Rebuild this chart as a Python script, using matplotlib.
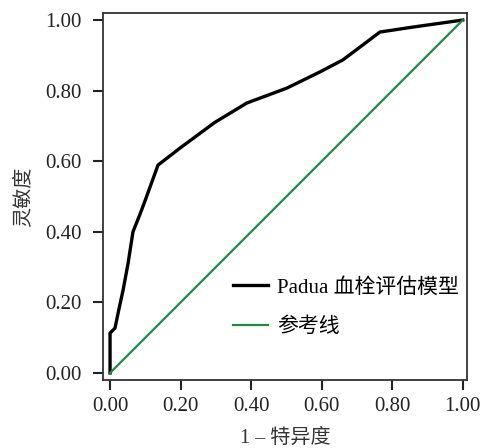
import matplotlib
matplotlib.use('Agg')
import matplotlib.pyplot as plt

plt.rcParams['font.family'] = ['Liberation Serif', 'Noto Sans CJK SC', 'DejaVu Sans']

# ROC curve of the Padua model
fpr = [0.0, 0.0, 0.014, 0.025, 0.037, 0.051, 0.065, 0.085, 0.10, 0.136,
       0.198, 0.297, 0.388, 0.501, 0.595, 0.66, 0.728, 0.765, 0.858, 1.0]
tpr = [0.0, 0.113, 0.127, 0.18, 0.235, 0.31, 0.40, 0.45, 0.49, 0.589,
       0.637, 0.710, 0.765, 0.807, 0.853, 0.887, 0.938, 0.966, 0.98, 1.0]
ref = [0.0, 1.0]

ticks = [0.0, 0.2, 0.4, 0.6, 0.8, 1.0]
tick_labels = ['0.00', '0.20', '0.40', '0.60', '0.80', '1.00']

fig = plt.figure(figsize=(4.84, 4.48), dpi=100)
ax = fig.add_axes([0.2128, 0.1518, 0.7521, 0.8192])

ax.plot(fpr, tpr, color='black', lw=2.4, label='Padua 血栓评估模型')
ax.plot(ref, ref, color='#1f8a40', lw=1.6, label='参考线')

ax.set_xlim(-0.02, 1.012)
ax.set_ylim(-0.02, 1.02)
ax.set_xticks(ticks)
ax.set_xticklabels(tick_labels)
ax.set_yticks(ticks)
ax.set_yticklabels(tick_labels)
ax.tick_params(direction='out', length=7.5, width=1.5, labelsize=15,
               colors='#222222')
ax.tick_params(axis='y', pad=8)
ax.tick_params(axis='x', pad=5)
for s in ax.spines.values():
    s.set_linewidth(1.3)
    s.set_color('#333333')

ax.set_xlabel('1 – 特异度', fontsize=14.5, color='#333333', labelpad=9)
ax.set_ylabel('灵敏度', fontsize=14.5, color='#333333', labelpad=8)

ax.legend(loc='upper left', bbox_to_anchor=(0.357, 0.278), frameon=False,
          fontsize=15, handlelength=1.7, labelspacing=0.95, handletextpad=0.4,
          borderpad=0, borderaxespad=0)

plt.savefig('out.png', dpi=100)
